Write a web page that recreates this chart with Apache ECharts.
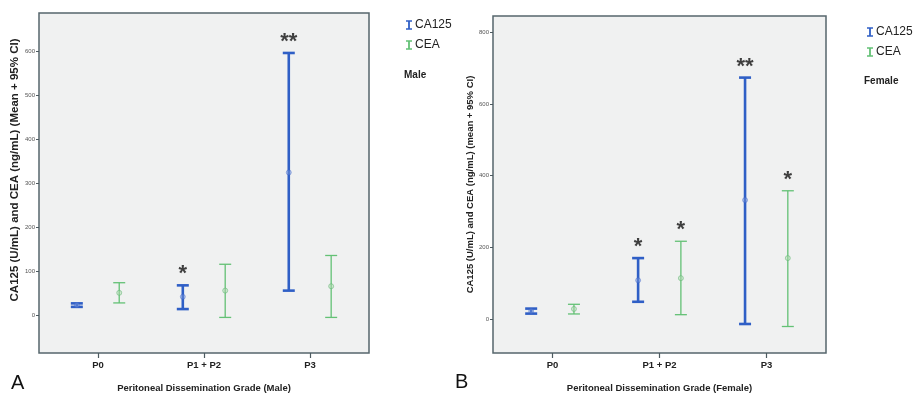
<!DOCTYPE html>
<html>
<head>
<meta charset="utf-8">
<script src="https://cdn.jsdelivr.net/npm/echarts@6/dist/echarts.min.js"></script>
<style>
html,body{margin:0;padding:0;background:#ffffff;}
#c{width:914px;height:398px;}
</style>
</head>
<body>
<div id="c"></div>
<script>
// ---- data ----
var categories = ['P0', 'P1 + P2', 'P3'];

var maleCA125Mean = [23, 42, 325];
var maleCA125Low  = [19, 14, 56];
var maleCA125High = [27, 68, 597];
var maleCEAMean   = [51, 56, 66];
var maleCEALow    = [28, -5, -5];
var maleCEAHigh   = [74, 116, 136];
var maleCA125Stars = ['', '*', '**'];
var maleCEAStars   = ['', '', ''];

var femaleCA125Mean = [22, 108, 332];
var femaleCA125Low  = [15, 48, -14];
var femaleCA125High = [29, 170, 674];
var femaleCEAMean   = [28, 114, 170];
var femaleCEALow    = [14, 12, -21];
var femaleCEAHigh   = [41, 217, 358];
var femaleCA125Stars = ['', '*', '**'];
var femaleCEAStars   = ['', '*', '*'];

var maleTicks = [0, 100, 200, 300, 400, 500, 600];
var femaleTicks = [0, 200, 400, 600, 800];

// ---- styling ----
var BLUE = '#2f5fc6';
var GREEN = '#63c175';
var OFF = 0.2;
var FONT = '"Liberation Sans", Arial, sans-serif';

function errData(low, high, off) {
  return low.map(function (l, i) { return [i + off, l, high[i]]; });
}
function meanData(mean, off) {
  return mean.map(function (m, i) { return [i + off, m]; });
}
function starData(high, stars, off) {
  var out = [];
  high.forEach(function (h, i) { if (stars[i]) out.push({ value: [i + off, h], label: { formatter: stars[i] } }); });
  return out;
}
function errRender(width, color) {
  return function (params, api) {
    var x = api.value(0), lo = api.value(1), hi = api.value(2);
    var a = api.coord([x, lo]), b = api.coord([x, hi]);
    var cw = 6;
    var st = { stroke: color, lineWidth: width };
    return {
      type: 'group',
      children: [
        { type: 'line', shape: { x1: a[0], y1: a[1], x2: b[0], y2: b[1] }, style: st },
        { type: 'line', shape: { x1: a[0] - cw, y1: a[1], x2: a[0] + cw, y2: a[1] }, style: st },
        { type: 'line', shape: { x1: b[0] - cw, y1: b[1], x2: b[0] + cw, y2: b[1] }, style: st }
      ]
    };
  };
}

function panelSeries(idx, ca, caL, caH, ce, ceL, ceH, caStars, ceStars) {
  var s = [];
  s.push({ name: 'CA125', type: 'custom', xAxisIndex: idx, yAxisIndex: idx, renderItem: errRender(2.6, BLUE),
    itemStyle: { color: BLUE }, data: errData(caL, caH, -OFF), z: 3 });
  s.push({ name: 'CEA', type: 'custom', xAxisIndex: idx, yAxisIndex: idx, renderItem: errRender(1.3, GREEN),
    itemStyle: { color: GREEN }, data: errData(ceL, ceH, OFF), z: 3 });
  s.push({ name: 'CA125 mean', type: 'scatter', xAxisIndex: idx, yAxisIndex: idx, symbol: 'circle', symbolSize: 5,
    itemStyle: { color: 'rgba(120,150,220,0.6)', borderColor: 'rgba(60,100,200,0.7)', borderWidth: 0.8 },
    data: meanData(ca, -OFF), z: 4 });
  s.push({ name: 'CEA mean', type: 'scatter', xAxisIndex: idx, yAxisIndex: idx, symbol: 'circle', symbolSize: 5,
    itemStyle: { color: 'rgba(170,215,170,0.6)', borderColor: 'rgba(90,180,110,0.8)', borderWidth: 0.8 },
    data: meanData(ce, OFF), z: 4 });
  var starLabel = { show: true, position: 'top', distance: 0, color: '#111', fontSize: 22, fontWeight: 'bold', fontFamily: FONT };
  s.push({ name: 'sig', type: 'scatter', xAxisIndex: idx, yAxisIndex: idx, symbolSize: 0, silent: true,
    label: starLabel, data: starData(caH, caStars, -OFF).concat(starData(ceH, ceStars, OFF)), z: 5 });
  return s;
}

function xAxisCfg(idx, name, gap) {
  return {
    type: 'value', gridIndex: idx, min: -0.557, max: 2.557, position: 'bottom',
    name: name, nameLocation: 'middle', nameGap: gap,
    nameTextStyle: { fontFamily: FONT, fontWeight: 'bold', fontSize: 9.5, color: '#222' },
    axisLine: { show: false, onZero: false },
    splitLine: { show: false },
    axisTick: { show: true, inside: false, length: 5, customValues: [0, 1, 2], lineStyle: { color: '#4d5a60', width: 1.2 } },
    axisLabel: { customValues: [0, 1, 2], margin: 7, fontFamily: FONT, fontWeight: 'bold', fontSize: 9.5, color: '#222',
      formatter: function (v) { return categories[Math.round(v)]; } }
  };
}
function yAxisCfg(idx, min, max, ticks, name, gap, fs, shift) {
  return {
    type: 'value', gridIndex: idx, min: min, max: max, position: 'left',
    name: name, nameLocation: 'middle', nameGap: gap, nameRotate: 90,
    nameTextStyle: { fontFamily: FONT, fontWeight: 'bold', fontSize: fs, color: '#222', padding: [0, 0, 0, shift] },
    axisLine: { show: false, onZero: false },
    splitLine: { show: false },
    axisTick: { show: true, length: 3, customValues: ticks, lineStyle: { color: '#4d5a60' } },
    axisLabel: { customValues: ticks, margin: 4, fontFamily: FONT, fontSize: 6, color: '#555' }
  };
}

var chart = echarts.init(document.getElementById('c'), null, { renderer: 'canvas' });
var option = {
  backgroundColor: '#ffffff',
  animation: false,
  grid: [
    { left: 39, top: 13, width: 330, height: 342, show: true, backgroundColor: '#f0f1f1', borderColor: '#56666c', borderWidth: 1.5 },
    { left: 493, top: 16, width: 333, height: 345, show: true, backgroundColor: '#f0f1f1', borderColor: '#56666c', borderWidth: 1.5 }
  ],
  xAxis: [
    xAxisCfg(0, 'Peritoneal Dissemination Grade (Male)', 30),
    xAxisCfg(1, 'Peritoneal Dissemination Grade (Female)', 30)
  ],
  yAxis: [
    yAxisCfg(0, -86, 688, maleTicks, 'CA125 (U/mL) and CEA (ng/mL) (Mean + 95% CI)', 17, 11.5, 26),
    yAxisCfg(1, -95, 846, femaleTicks, 'CA125 (U/mL) and CEA (ng/mL) (mean + 95% CI)', 15, 9.5, 0)
  ],
  legend: [
    { left: 401, top: 14, orient: 'vertical', itemGap: 8, itemWidth: 6, itemHeight: 12, data: ['CA125', 'CEA'],
      icon: 'path://M0,0 L10,0 L10,2.5 L6.5,2.5 L6.5,13.5 L10,13.5 L10,16 L0,16 L0,13.5 L3.5,13.5 L3.5,2.5 L0,2.5 Z',
      textStyle: { fontFamily: FONT, fontSize: 12, color: '#222', padding: [0, 0, 0, -2] }, selectedMode: false },
    { left: 862, top: 21, orient: 'vertical', itemGap: 8, itemWidth: 6, itemHeight: 12, data: ['CA125', 'CEA'],
      icon: 'path://M0,0 L10,0 L10,2.5 L6.5,2.5 L6.5,13.5 L10,13.5 L10,16 L0,16 L0,13.5 L3.5,13.5 L3.5,2.5 L0,2.5 Z',
      textStyle: { fontFamily: FONT, fontSize: 12, color: '#222', padding: [0, 0, 0, -2] }, selectedMode: false }
  ],
  graphic: [
    { type: 'text', left: 404, top: 70, style: { text: 'Male', font: 'bold 10px ' + FONT, fill: '#222' } },
    { type: 'text', left: 864, top: 76, style: { text: 'Female', font: 'bold 10px ' + FONT, fill: '#222' } },
    { type: 'text', left: 11, top: 373, style: { text: 'A', font: '20px ' + FONT, fill: '#111' } },
    { type: 'text', left: 455, top: 372, style: { text: 'B', font: '20px ' + FONT, fill: '#111' } }
  ],
  series: [].concat(
    panelSeries(0, maleCA125Mean, maleCA125Low, maleCA125High, maleCEAMean, maleCEALow, maleCEAHigh, maleCA125Stars, maleCEAStars),
    panelSeries(1, femaleCA125Mean, femaleCA125Low, femaleCA125High, femaleCEAMean, femaleCEALow, femaleCEAHigh, femaleCA125Stars, femaleCEAStars)
  )
};
chart.setOption(option);
</script>
</body>
</html>
